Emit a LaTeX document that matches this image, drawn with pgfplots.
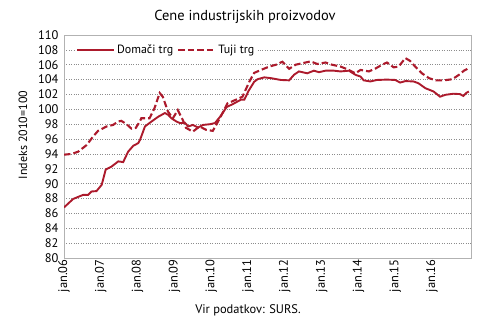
\documentclass[border=0pt]{standalone}
\usepackage{fontspec}
\setmainfont{PT Sans}
\usepackage{pgfplots}
\pgfplotsset{compat=1.18}
\definecolor{lred}{RGB}{172,26,44}
\pgfplotstableread{
m v
0 86.8
3.0 87.95
6.3 88.5
7.9 88.5
9.0 88.95
10.6 89.0
12.3 89.85
13.6 91.9
15.5 92.3
17.7 93.0
19.3 92.9
20.9 94.3
22.6 95.1
24.2 95.45
24.8 95.9
26.4 97.7
28.5 98.35
30.7 99.0
32.9 99.5
34.0 99.25
35.0 98.8
36.7 98.35
37.8 98.15
39.4 98.2
40.5 97.7
42.0 97.9
43.7 97.55
45.3 97.9
47.6 98.0
49.2 98.15
50.9 99.0
53.0 100.3
55.0 100.7
57.7 101.3
58.8 101.3
60.2 102.5
62.0 103.7
63.1 104.05
65.3 104.3
67.4 104.2
70.7 103.95
73.4 103.9
75.0 104.65
76.6 105.1
79.3 104.85
81.5 105.2
83.1 105.0
85.3 105.2
88.0 105.2
90.2 105.1
92.9 105.2
95.0 104.65
96.7 104.4
97.7 103.9
99.9 103.75
102.0 103.95
105.3 104.0
108.0 103.95
109.6 103.6
111.3 103.8
114.0 103.75
115.6 103.5
117.8 102.85
120.5 102.4
122.6 101.7
124.3 101.95
127.0 102.1
129.1 102.05
130.2 101.8
131.3 102.25
132.0 102.4
}\domaci
\pgfplotstableread{
m v
0 93.9
2.5 94.0
4.6 94.3
7.4 95.2
9.5 96.35
11.1 97.1
13.9 97.7
16.0 97.9
17.6 98.35
18.7 98.45
20.4 98.0
22.0 97.4
23.4 97.5
24.7 98.35
25.2 98.8
27.9 98.8
29.5 100.15
31.2 102.2
32.2 101.7
33.9 99.7
35.5 98.8
37.1 99.9
38.7 98.6
39.8 97.5
42.0 97.0
44.2 97.7
46.3 97.25
48.5 97.1
49.6 97.9
51.2 99.1
53.3 100.8
56.1 101.3
58.2 101.7
60.4 103.7
62.0 104.9
64.2 105.3
66.9 105.75
69.1 106.0
71.2 106.4
73.4 105.45
75.5 106.0
77.7 106.2
80.4 106.45
82.6 106.1
85.3 106.3
87.4 106.0
90.2 105.75
92.3 105.4
95.0 104.85
96.7 105.3
99.4 105.1
101.6 105.5
103.7 106.0
105.3 106.3
107.5 105.65
109.1 105.75
111.3 106.9
112.9 106.5
114.5 105.75
116.7 104.85
119.0 104.2
121.2 103.9
123.9 103.9
126.6 104.05
128.8 104.65
130.4 105.2
132.0 105.55
}\tuji
\begin{document}
\begin{tikzpicture}
\path[use as bounding box] (0bp,0bp) rectangle (490bp,322bp);
\begin{axis}[
  at={(64bp,64bp)}, anchor=south west,
  width=407bp, height=223bp, scale only axis,
  xmin=0, xmax=132.7, ymin=80, ymax=110,
  ytick={80,82,...,110},
  xtick={0,12,...,120},
  xticklabels={jan.06,jan.07,jan.08,jan.09,jan.10,jan.11,jan.12,jan.13,jan.14,jan.15,jan.16},
  xticklabel style={rotate=90, anchor=east, font=\fontsize{12.5}{14}\selectfont, xshift=2bp},
  yticklabel style={font=\fontsize{12.5}{14}\selectfont, xshift=-2bp},
  /pgf/number format/assume math mode=true,
  tick style={draw=none},
  axis line style={draw=black!30, line width=0.6pt},
  ymajorgrids,
  grid style={draw=black!45, dotted, line width=0.7pt},
  legend columns=2,
  legend style={at={(0.027,0.933)}, anchor=west, draw=none, fill=white,
    font=\fontsize{12}{14}\selectfont, inner sep=1bp,
    nodes={inner xsep=2bp, inner ysep=1bp},
    /tikz/every even column/.append style={column sep=2bp}},
  legend cell align=left,
  legend image code/.code={\draw[#1] (0bp,0bp) -- (37bp,0bp);},
]
\addplot[lred, line width=1.9bp] table[x=m,y=v] {\domaci};
\addlegendentry{Domači trg}
\addplot[lred, line width=2.1bp, dash pattern=on 6.5bp off 3bp] table[x=m,y=v] {\tuji};
\addlegendentry{Tuji trg}
\end{axis}
\node[font=\fontsize{14.5}{16}\selectfont] at (245bp,305bp) {Cene industrijskih proizvodov};
\node[font=\fontsize{12.5}{14}\selectfont] at (248bp,12bp) {Vir podatkov: SURS.};
\node[font=\fontsize{12}{14}\selectfont, rotate=90] at (23bp,187bp) {Indeks 2010=100};
\end{tikzpicture}
\end{document}
